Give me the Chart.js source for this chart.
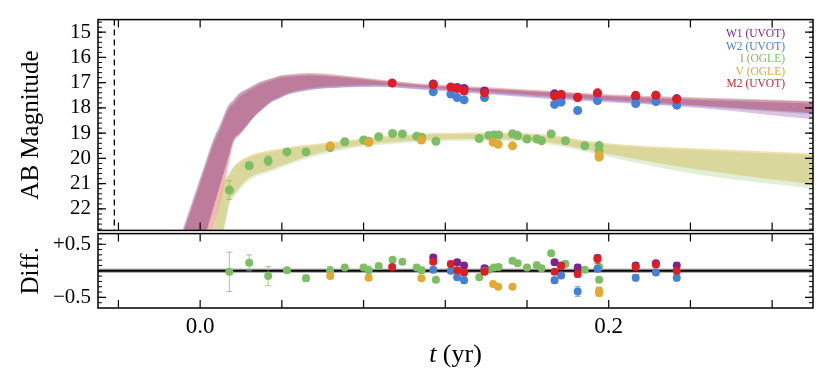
<!DOCTYPE html>
<html>
<head>
<meta charset="utf-8">
<script src="https://cdn.jsdelivr.net/npm/chart.js@4.4.1/dist/chart.umd.min.js"></script>
<style>
  html, body { margin: 0; padding: 0; background: #fff; }
  #wrap { position: relative; width: 830px; height: 383px; overflow: hidden; }
  canvas { position: absolute; left: 0; }
  #top { top: 0; }
  #bot { top: 214px; }
</style>
</head>
<body>
<div id="wrap">
  <canvas id="top" width="830" height="250" style="width:830px;height:250px"></canvas>
  <canvas id="bot" width="830" height="169" style="width:830px;height:169px"></canvas>
</div>
<script>
// axes
const X_MIN = -0.05, X_MAX = 0.30;
const MAG_MIN = 14.5, MAG_MAX = 22.85;
const RES_MIN = -0.7, RES_MAX = 0.7;
const X_TICKS = [-0.04, 0, 0.04, 0.08, 0.12, 0.16, 0.2, 0.24, 0.28];
const X_LABELS = { '0': '0.0', '0.2': '0.2' };
const MAG_TICKS = [15, 16, 17, 18, 19, 20, 21, 22];
const RES_TICKS = [-0.5, 0.5];
const EXPLOSION_T = -0.042;
const LEGEND_LABELS = ['W1 (UVOT)', 'W2 (UVOT)', 'I (OGLE)', 'V (OGLE)', 'M2 (UVOT)'];

// model envelopes (UV)
const tModelUV = [-0.015, -0.0084, 0.0, 0.0033, 0.0065, 0.0098, 0.0138, 0.0163, 0.0196, 0.0228, 0.0277, 0.0293,
  0.0342, 0.0391, 0.0424, 0.0538, 0.0699, 0.0864, 0.1076, 0.139, 0.1735, 0.1956, 0.2445, 0.30];
const m2Hi = [24.4, 22.85, 20.84, 20.05, 19.29, 18.71, 17.94, 17.72, 17.42, 17.27, 17.04, 16.97,
  16.84, 16.71, 16.68, 16.62, 16.71, 16.86, 17.03, 17.17, 17.33, 17.45, 17.59, 17.72];
const m2Lo = [29, 26.9, 24.6, 23.7, 22.8, 21.7, 20.3, 19.4, 19.05, 18.7, 18.22, 18.1,
  17.76, 17.56, 17.43, 17.22, 17.12, 17.09, 17.18, 17.36, 17.56, 17.66, 17.9, 18.2];
const w1Hi = [24.6, 23.0, 21.0, 20.2, 19.45, 18.85, 18.08, 17.85, 17.55, 17.38, 17.14, 17.07,
  16.93, 16.8, 16.77, 16.71, 16.79, 16.93, 17.1, 17.24, 17.4, 17.52, 17.68, 17.82];
const w1Lo = [28, 26.05, 23.75, 22.85, 21.97, 21.07, 19.97, 19.29, 19.0, 18.71, 18.26, 18.15,
  17.81, 17.62, 17.49, 17.29, 17.19, 17.16, 17.27, 17.45, 17.66, 17.75, 18.0, 18.45];
const w2Hi = [24.3, 22.75, 20.74, 19.95, 19.2, 18.62, 17.87, 17.66, 17.38, 17.24, 17.03, 16.97,
  16.85, 16.73, 16.7, 16.66, 16.75, 16.9, 17.07, 17.22, 17.38, 17.5, 17.63, 17.75];
const w2Lo = [28, 26.0, 23.7, 22.8, 21.92, 21.02, 19.93, 19.26, 18.97, 18.68, 18.24, 18.13,
  17.8, 17.61, 17.48, 17.28, 17.18, 17.15, 17.25, 17.42, 17.62, 17.72, 17.95, 18.25];

// model envelopes (optical)
const tModelOpt = [0.0, 0.0065, 0.0114, 0.0147, 0.0163, 0.0228, 0.0342, 0.0636, 0.106, 0.14, 0.17, 0.1956, 0.2445, 0.30];
const vHi = [25.0, 22.85, 20.97, 20.55, 20.32, 19.94, 19.68, 19.36, 19.02, 18.97, 19.05, 19.37, 19.61, 19.8];
const vLo = [28, 24.5, 22.85, 21.6, 21.45, 20.84, 20.45, 19.68, 19.29, 19.23, 19.36, 19.76, 20.45, 21.03];
const iHi = [25.1, 22.95, 21.05, 20.62, 20.39, 20.0, 19.74, 19.42, 19.08, 19.03, 19.11, 19.43, 19.68, 19.88];
const iLo = [28.2, 24.7, 23.0, 21.72, 21.56, 20.94, 20.53, 19.76, 19.36, 19.3, 19.44, 19.86, 20.65, 21.2];

// observations
const tM2 = [0.094, 0.1141, 0.1227, 0.1258, 0.1292, 0.1392, 0.1735, 0.1767, 0.1848, 0.1945, 0.2132, 0.2231, 0.2333];
const magM2 = [17.01, 17.08, 17.17, 17.23, 17.33, 17.40, 17.53, 17.46, 17.59, 17.40, 17.50, 17.50, 17.66];
const errM2 = [0.04, 0.05, 0.05, 0.05, 0.05, 0.05, 0.05, 0.05, 0.06, 0.08, 0.05, 0.05, 0.05];
const resM2 = [0.07, 0.17, 0.13, 0.01, -0.03, -0.02, -0.02, 0.09, -0.06, 0.22, 0.07, 0.12, 0.00];

const tW2 = [0.1141, 0.1227, 0.1258, 0.1292, 0.1392, 0.1735, 0.1767, 0.1848, 0.1945, 0.2132, 0.2231, 0.2333];
const magW2 = [17.36, 17.45, 17.59, 17.68, 17.59, 17.86, 17.77, 18.10, 17.71, 17.83, 17.75, 17.89];
const errW2 = [0.05, 0.05, 0.05, 0.06, 0.05, 0.06, 0.05, 0.09, 0.05, 0.06, 0.05, 0.06];
const resW2 = [0.02, 0.00, -0.12, -0.18, 0.00, -0.18, -0.09, -0.39, 0.04, -0.13, -0.03, -0.13];

const tW1 = [0.1141, 0.1258, 0.1292, 0.1392, 0.1735, 0.1767, 0.1848, 0.1945, 0.2132, 0.2231, 0.2333];
const magW1 = [17.05, 17.19, 17.23, 17.33, 17.44, 17.55, 17.58, 17.42, 17.55, 17.50, 17.63];
const errW1 = [0.05, 0.05, 0.05, 0.05, 0.05, 0.05, 0.06, 0.05, 0.05, 0.05, 0.05];
const resW1 = [0.25, 0.16, 0.10, 0.05, 0.16, 0.10, 0.06, 0.24, 0.10, 0.14, 0.10];

const tI = [0.0143, 0.024, 0.0333, 0.0425, 0.0518, 0.0636, 0.0708, 0.080, 0.0825, 0.0874, 0.0942, 0.099, 0.106, 0.1084,
  0.1154, 0.1366, 0.1413, 0.1438, 0.1461, 0.1529, 0.1554, 0.16, 0.1648, 0.1671, 0.1718, 0.1788, 0.1883, 0.1953, 0.1953];
const magI = [21.25, 20.29, 20.09, 19.74, 19.74, 19.57, 19.34, 19.27, 19.33, 19.14, 19.01, 19.03, 19.12, 19.16,
  19.32, 19.21, 19.09, 19.07, 19.07, 19.02, 19.09, 19.23, 19.23, 19.30, 19.03, 19.30, 19.50, 19.49, 19.71];
const errI = [0.37, 0.15, 0.18, 0.04, 0.06, 0.08, 0.04, 0.04, 0.08, 0.04, 0.04, 0.04, 0.05, 0.06,
  0.04, 0.05, 0.04, 0.04, 0.04, 0.04, 0.04, 0.05, 0.07, 0.04, 0.04, 0.06, 0.04, 0.05, 0.05];
const resI = [-0.02, 0.15, -0.10, 0.01, -0.14, 0.00, 0.06, 0.06, 0.01, 0.09, 0.21, 0.17, 0.06, 0.01,
  -0.17, -0.12, 0.02, 0.06, 0.07, 0.19, 0.14, 0.06, 0.10, 0.05, 0.33, 0.13, 0.02, 0.07, -0.17];

const tV = [0.0637, 0.0825, 0.1083, 0.1434, 0.1459, 0.1529, 0.1953, 0.1953];
const magV = [19.50, 19.37, 19.27, 19.36, 19.44, 19.50, 19.88, 19.95];
const errV = [0.05, 0.04, 0.04, 0.04, 0.04, 0.04, 0.06, 0.06];
const resV = [-0.10, -0.13, -0.14, -0.25, -0.30, -0.30, -0.37, -0.42];

const SERIF = "'Liberation Serif', 'Times New Roman', 'DejaVu Serif', serif";
const C = {
  w1: 'rgb(125,35,140)', w2: 'rgb(70,128,212)', i: 'rgb(125,190,100)',
  v: 'rgb(228,168,52)', m2: 'rgb(222,30,38)'
};
const LEGEND_COLORS = [C.w1, C.w2, C.i, C.v, C.m2];

const pts = (ts, vs) => ts.map((t, k) => ({ x: t, y: vs[k] }));

function band(ts, hi, lo, fillColor, order) {
  return [
    { type: 'line', data: pts(ts, hi), fill: '+1', backgroundColor: fillColor, borderWidth: 0,
      pointRadius: 0, cubicInterpolationMode: 'monotone', order },
    { type: 'line', data: pts(ts, lo), fill: false, borderWidth: 0,
      pointRadius: 0, cubicInterpolationMode: 'monotone', order }
  ];
}

function marks(ts, vs, errs, color, order, r) {
  return { type: 'scatter', data: pts(ts, vs), errors: errs, backgroundColor: color,
    borderWidth: 0, pointRadius: r, pointHoverRadius: r, order };
}

// vertical error bars, drawn just before the markers of the same dataset
const errBars = {
  id: 'errBars',
  beforeDatasetDraw(chart, args) {
    const ds = chart.data.datasets[args.index];
    if (!ds.errors) return;
    const ys = chart.scales[args.meta.yAxisID];
    const ctx = chart.ctx;
    ctx.save();
    ctx.strokeStyle = ds.backgroundColor;
    ctx.globalAlpha = 0.75;
    ctx.lineWidth = 1;
    args.meta.data.forEach((el, k) => {
      const d = ds.data[k], e = ds.errors[k];
      const y1 = ys.getPixelForValue(d.y - e), y2 = ys.getPixelForValue(d.y + e);
      ctx.beginPath();
      ctx.moveTo(el.x, y1); ctx.lineTo(el.x, y2);
      ctx.moveTo(el.x - 3, y1); ctx.lineTo(el.x + 3, y1);
      ctx.moveTo(el.x - 3, y2); ctx.lineTo(el.x + 3, y2);
      ctx.stroke();
    });
    ctx.restore();
  }
};

// box frame with inward ticks on all four sides
const frame = {
  id: 'frame',
  afterDatasetsDraw(chart, args, o) {
    const { ctx, chartArea: a } = chart;
    const x = chart.scales.x, y = chart.scales.y;
    const seg = (x1, y1, x2, y2) => { ctx.moveTo(x1, y1); ctx.lineTo(x2, y2); };
    ctx.save();
    ctx.strokeStyle = '#000';
    ctx.lineWidth = 1.2;
    ctx.beginPath();
    X_TICKS.forEach(v => {
      const p = x.getPixelForValue(v);
      seg(p, a.top, p, a.top + 8);
      seg(p, a.bottom, p, a.bottom - 8);
    });
    o.major.forEach(v => {
      const p = y.getPixelForValue(v);
      seg(a.left, p, a.left + 8, p);
      seg(a.right, p, a.right - 8, p);
    });
    ctx.stroke();
    ctx.lineWidth = 1;
    ctx.beginPath();
    for (let v = o.minorFrom; v <= o.minorTo + 1e-9; v += o.minorStep) {
      const p = y.getPixelForValue(v);
      seg(a.left, p, a.left + 4, p);
      seg(a.right, p, a.right - 4, p);
    }
    ctx.stroke();
    ctx.lineWidth = 1.5;
    ctx.strokeRect(a.left, a.top, a.right - a.left, a.bottom - a.top);
    ctx.restore();
  }
};

// coloured legend text in the top-right corner
const tags = {
  id: 'tags',
  afterDraw(chart) {
    const ctx = chart.ctx;
    ctx.save();
    ctx.font = '11.5px ' + SERIF;
    ctx.textAlign = 'right';
    ctx.textBaseline = 'middle';
    LEGEND_LABELS.forEach((s, k) => {
      ctx.fillStyle = LEGEND_COLORS[k];
      ctx.fillText(s, 785, 34 + k * 12.6);
    });
    ctx.restore();
  }
};

// x axis title with italic t
const xTitle = {
  id: 'xTitle',
  afterDraw(chart) {
    const ctx = chart.ctx, a = chart.chartArea;
    const cx = (a.left + a.right) / 2, cy = a.bottom + 47;
    ctx.save();
    ctx.fillStyle = '#000';
    ctx.textBaseline = 'middle';
    ctx.font = 'italic 26px ' + SERIF;
    const w1 = ctx.measureText('t').width;
    ctx.font = '26px ' + SERIF;
    const w2 = ctx.measureText(' (yr)').width;
    const x0 = cx - (w1 + w2) / 2;
    ctx.textAlign = 'left';
    ctx.font = 'italic 26px ' + SERIF;
    ctx.fillText('t', x0, cy);
    ctx.font = '26px ' + SERIF;
    ctx.fillText(' (yr)', x0 + w1, cy);
    ctx.restore();
  }
};

const yAxis = (min, max, ticks, label, fmt) => ({
  type: 'linear', min, max,
  afterFit: s => { s.width = 98; },
  afterBuildTicks: s => { s.ticks = ticks.map(v => ({ value: v })); },
  grid: { display: false, drawTicks: false },
  border: { display: false },
  ticks: { padding: 7, color: '#000', autoSkip: false, font: { family: SERIF, size: 21 }, callback: fmt },
  title: { display: true, text: label, color: '#000', font: { family: SERIF, size: 25 }, padding: { top: 16, bottom: 0 } }
});

const common = {
  responsive: false,
  animation: false,
  events: [],
  plugins: { legend: { display: false }, tooltip: { enabled: false } }
};

// upper panel: light curves
new Chart(document.getElementById('top'), {
  type: 'scatter',
  data: {
    datasets: [
      ...band(tModelUV, w2Hi, w2Lo, 'rgba(80,130,220,0.32)', 40),
      ...band(tModelUV, w1Hi, w1Lo, 'rgba(128,40,140,0.28)', 39),
      ...band(tModelUV, m2Hi, m2Lo, 'rgba(214,40,40,0.33)', 38),
      ...band(tModelOpt, vHi, vLo, 'rgba(225,175,50,0.4)', 37),
      ...band(tModelOpt, iHi, iLo, 'rgba(140,190,100,0.25)', 36),
      { type: 'line', data: [{ x: EXPLOSION_T, y: MAG_MIN }, { x: EXPLOSION_T, y: MAG_MAX }],
        borderColor: '#000', borderWidth: 1.3, borderDash: [6, 4], pointRadius: 0, fill: false, order: 35 },
      marks(tI, magI, errI, C.i, 9, 4.5),
      marks(tV, magV, errV, C.v, 8, 4.5),
      marks(tW1, magW1, errW1, C.w1, 7, 4.5),
      marks(tW2, magW2, errW2, C.w2, 6, 4.5),
      marks(tM2, magM2, errM2, C.m2, 5, 4.5)
    ]
  },
  options: {
    ...common,
    layout: { padding: { left: 0, top: 17, right: 17, bottom: 18 } },
    plugins: { ...common.plugins, frame: { major: MAG_TICKS, minorFrom: 14.6, minorTo: 22.8, minorStep: 0.2 } },
    scales: {
      x: { type: 'linear', min: X_MIN, max: X_MAX, display: false },
      y: { ...yAxis(MAG_MIN, MAG_MAX, MAG_TICKS, 'AB Magnitude', v => String(v)), reverse: true }
    }
  },
  plugins: [errBars, frame, tags]
});

// lower panel: residuals
new Chart(document.getElementById('bot'), {
  type: 'scatter',
  data: {
    datasets: [
      { type: 'line', data: [{ x: X_MIN, y: 0 }, { x: X_MAX, y: 0 }], borderColor: 'rgba(0,0,0,0.3)',
        borderWidth: 4.5, pointRadius: 0, fill: false, order: 21 },
      { type: 'line', data: [{ x: X_MIN, y: 0 }, { x: X_MAX, y: 0 }], borderColor: '#000',
        borderWidth: 2, pointRadius: 0, fill: false, order: 20 },
      marks(tI, resI, errI, C.i, 9, 4),
      marks(tV, resV, errV, C.v, 8, 4),
      marks(tW1, resW1, errW1, C.w1, 7, 4),
      marks(tW2, resW2, errW2, C.w2, 6, 4),
      marks(tM2, resM2, errM2, C.m2, 5, 4)
    ]
  },
  options: {
    ...common,
    layout: { padding: { left: 0, top: 18, right: 17, bottom: 0 } },
    plugins: { ...common.plugins, frame: { major: RES_TICKS, minorFrom: -0.6, minorTo: 0.6, minorStep: 0.1 } },
    scales: {
      x: {
        type: 'linear', min: X_MIN, max: X_MAX,
        afterFit: s => { s.height = 75; },
        afterBuildTicks: s => { s.ticks = X_TICKS.map(v => ({ value: v })); },
        grid: { display: false, drawTicks: false },
        border: { display: false },
        ticks: { padding: 5, color: '#000', autoSkip: false, maxRotation: 0,
          font: { family: SERIF, size: 23 },
          callback: v => X_LABELS[String(Math.round(v * 100) / 100)] || '' }
      },
      y: yAxis(RES_MIN, RES_MAX, RES_TICKS, 'Diff.', v => (v > 0 ? '+' : '\u2212') + Math.abs(v).toFixed(1))
    }
  },
  plugins: [errBars, frame, xTitle]
});
</script>
</body>
</html>
